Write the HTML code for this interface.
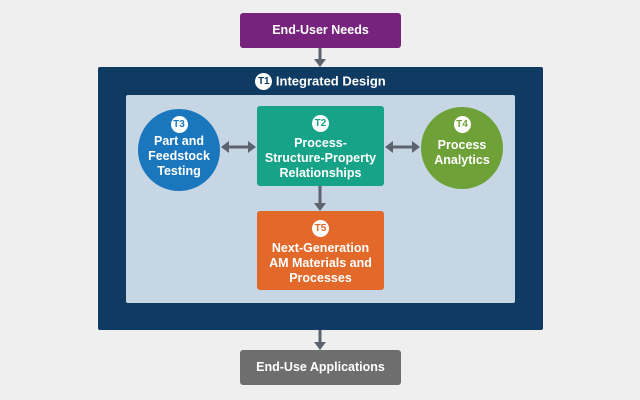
<!DOCTYPE html>
<html><head><style>
body{margin:0;width:640px;height:400px;background:#efeff0;position:relative;overflow:hidden;font-family:"Liberation Sans",sans-serif;}
.a{position:absolute;box-sizing:border-box;color:#fff;text-align:center;font-weight:bold;}
.badge{display:inline-block;width:17px;height:17px;border-radius:50%;background:#fff;font-size:10px;line-height:17px;font-weight:bold;text-align:center;}
.t{font-size:12.5px;line-height:15px;}
</style></head><body>
<div class="a" style="left:240px;top:13px;width:161px;height:35px;background:#76237e;border-radius:3px;font-size:12.5px;line-height:35px;">End-User Needs</div>
<div class="a" style="left:98px;top:67px;width:445px;height:263px;background:#0f3b63;border-radius:2px;"></div>
<div class="a" style="left:98px;top:71px;width:445px;height:20px;font-size:13px;line-height:20px;"><span class="badge" style="color:#0f3b63;vertical-align:middle">T1</span> <span style="vertical-align:middle">Integrated Design</span></div>
<div class="a" style="left:126px;top:95px;width:389px;height:208px;background:#c6d6e4;border-radius:2px;"></div>
<div class="a" style="left:138px;top:109px;width:82px;height:82px;border-radius:50%;background:#1a77be;padding-top:5px"><span class="badge" style="color:#1a77be">T3</span><div class="t" style="margin-top:1px">Part and<br>Feedstock<br>Testing</div></div>
<div class="a" style="left:257px;top:106px;width:127px;height:80px;background:#17a387;border-radius:3px;padding-top:7px"><span class="badge" style="color:#17a387">T2</span><div class="t" style="margin-top:4px">Process-<br>Structure-Property<br>Relationships</div></div>
<div class="a" style="left:421px;top:107px;width:82px;height:82px;border-radius:50%;background:#6ea238;padding-top:7px"><span class="badge" style="color:#6ea238">T4</span><div class="t" style="margin-top:5px">Process<br>Analytics</div></div>
<div class="a" style="left:257px;top:211px;width:127px;height:79px;background:#e2692a;border-radius:3px;padding-top:7px"><span class="badge" style="color:#e2692a">T5</span><div class="t" style="margin-top:4px">Next-Generation<br>AM Materials and<br>Processes</div></div>
<div class="a" style="left:240px;top:350px;width:161px;height:35px;background:#6e6e6f;border-radius:3px;font-size:12.5px;line-height:35px;">End-Use Applications</div>
<svg width="640" height="400" style="position:absolute;left:0;top:0">
<g stroke="#5d6470" stroke-width="3" fill="#5d6470">
<line x1="320" y1="48" x2="320" y2="60"/><polygon points="314,59 326,59 320,67" stroke="none"/>
<line x1="320" y1="186" x2="320" y2="204"/><polygon points="314,203 326,203 320,211" stroke="none"/>
<line x1="320" y1="330" x2="320" y2="343"/><polygon points="314,342 326,342 320,350" stroke="none"/>
<line x1="228" y1="147" x2="249" y2="147"/><polygon points="221,147 229,141 229,153" stroke="none"/><polygon points="256,147 248,141 248,153" stroke="none"/>
<line x1="392" y1="147" x2="413" y2="147"/><polygon points="385,147 393,141 393,153" stroke="none"/><polygon points="420,147 412,141 412,153" stroke="none"/>
</g></svg>
</body></html>
